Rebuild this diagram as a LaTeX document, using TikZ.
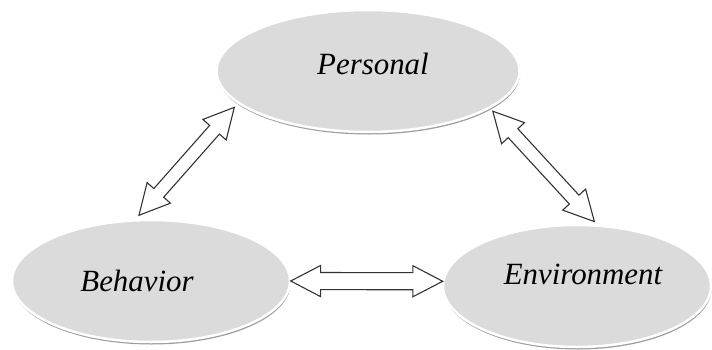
\documentclass[tikz,border=0pt]{standalone}
\usepackage{fontspec}
\setmainfont{Liberation Serif}
\usetikzlibrary{shapes.geometric,shapes.arrows,shadows}

\begin{document}
\begin{tikzpicture}[
    x=1bp, y=1bp,
    oval/.style={ellipse, draw=white, line width=2.5bp, fill=black!14, inner sep=0pt,
      drop shadow={shadow xshift=0.6bp, shadow yshift=-2.5bp, fill=black!55, opacity=0.7},
      font=\fontsize{31}{36}\selectfont\itshape},
    dblarr/.style={double arrow, draw=black!80, line width=1.1bp, fill=white, inner xsep=0pt, inner ysep=6bp,
      double arrow head extend=9bp, double arrow tip angle=55}
]
\useasboundingbox (0,0) rectangle (712,349);
\node[oval, minimum width=303bp, minimum height=122bp] (per) at (368,278) {\hspace*{10bp}\raisebox{14bp}{Personal}};
\node[oval, minimum width=278bp, minimum height=122bp] (beh) at (151,68) {\raisebox{-12bp}{Behavior}\hspace*{28bp}};
\node[oval, minimum width=268bp, minimum height=122bp] (env) at (577,63) {\hspace*{12bp}\raisebox{24bp}{Environment}};

\path (beh.104) -- (per.194) node[midway, sloped, dblarr, minimum height=144bp] {};
\path (per.343) -- (env.72) node[midway, sloped, dblarr, minimum height=150bp] {};
\path (beh.0) -- (env.178) node[midway, sloped, dblarr, inner ysep=8bp, double arrow head extend=7bp, minimum height=152bp] {};
\end{tikzpicture}
\end{document}
